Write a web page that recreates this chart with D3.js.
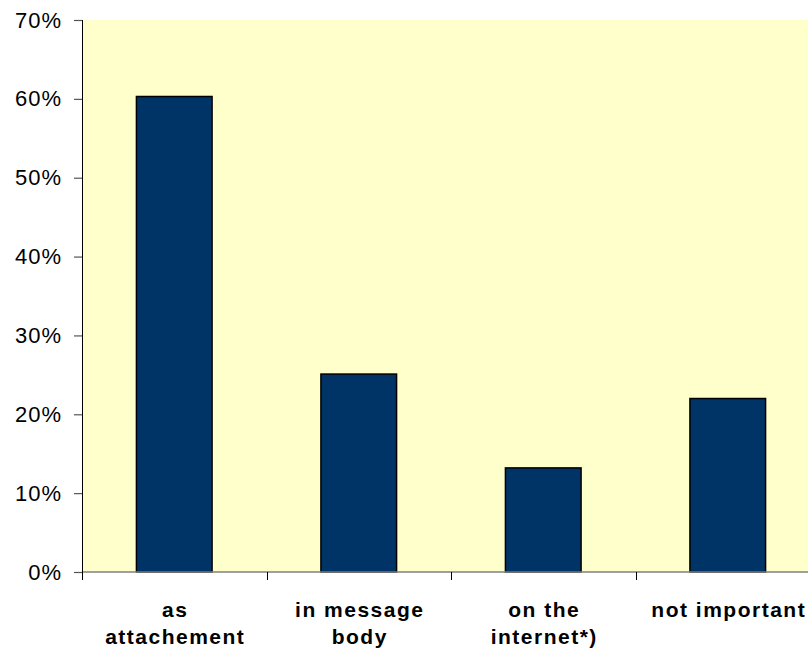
<!DOCTYPE html>
<html><head><meta charset="utf-8">
<script src="https://cdn.jsdelivr.net/npm/d3@7"></script>
<style>html,body{margin:0;padding:0;background:#fff;overflow:hidden}</style>
</head><body>
<svg id="c" width="808" height="654"></svg>
<script>
const categories = [["as","attachement"],["in message","body"],["on the","internet*)"],["not important"]];
const values = [0.603, 0.251, 0.132, 0.220];
const yTicks = [0,0.1,0.2,0.3,0.4,0.5,0.6,0.7];

const svg = d3.select("#c");
const L = 82, T = 20, B = 572, R = 820;
const x = d3.scaleBand().domain(d3.range(categories.length)).range([L, R]).paddingInner(0.59).paddingOuter(0.295);
const xb = d3.scaleBand().domain(d3.range(categories.length)).range([L, R]);
const y = d3.scaleLinear().domain([0,0.7]).range([B, T]);
const font = "Liberation Sans, Arial, sans-serif";

svg.append("rect").attr("x",L).attr("y",T).attr("width",R-L).attr("height",B-T).attr("fill","#FFFFCC");

svg.selectAll("rect.bar").data(values).join("rect").attr("class","bar")
  .attr("x",(d,i)=>x(i)).attr("y",d=>y(d)).attr("width",x.bandwidth()).attr("height",d=>B-y(d))
  .attr("fill","#003366").attr("stroke","#000").attr("stroke-width",1.5);

// x axis baseline
svg.append("line").attr("x1",L).attr("x2",R).attr("y1",B).attr("y2",B).attr("stroke","#808080").attr("stroke-width",1.5);
// x ticks
svg.selectAll("line.xt").data(d3.range(categories.length+1)).join("line").attr("class","xt")
  .attr("x1",i=>Math.round(L+i*xb.step())+0.5).attr("x2",i=>Math.round(L+i*xb.step())+0.5)
  .attr("y1",B).attr("y2",B+8).attr("stroke","#000").attr("stroke-width",1);

// y axis
const ya = svg.append("g").attr("transform",`translate(${L},0)`)
  .call(d3.axisLeft(y).tickValues(yTicks).tickFormat(d3.format(".0%")).tickSize(8).tickPadding(12));
ya.select(".domain").remove();
ya.selectAll(".tick line").attr("stroke","#555").attr("stroke-width",1.2);
ya.selectAll("text").attr("font-family",font).attr("font-size",22).attr("letter-spacing",1).attr("fill","#000");
svg.append("line").attr("x1",L+0.5).attr("x2",L+0.5).attr("y1",T).attr("y2",B+8).attr("stroke","#000").attr("stroke-width",1);

// category labels
const lab = svg.selectAll("text.cat").data(categories).join("text").attr("class","cat")
  .attr("x",(d,i)=>x(i)+x.bandwidth()/2+1).attr("y",617)
  .attr("text-anchor","middle").attr("font-family",font)
  .attr("font-size",21).attr("font-weight","bold").attr("letter-spacing",1.5).attr("fill","#000");
lab.each(function(d){
  const t=d3.select(this);
  d.forEach((s,k)=>t.append("tspan").attr("x",t.attr("x")).attr("dy",k===0?0:27).text(s));
});
</script>
</body></html>
